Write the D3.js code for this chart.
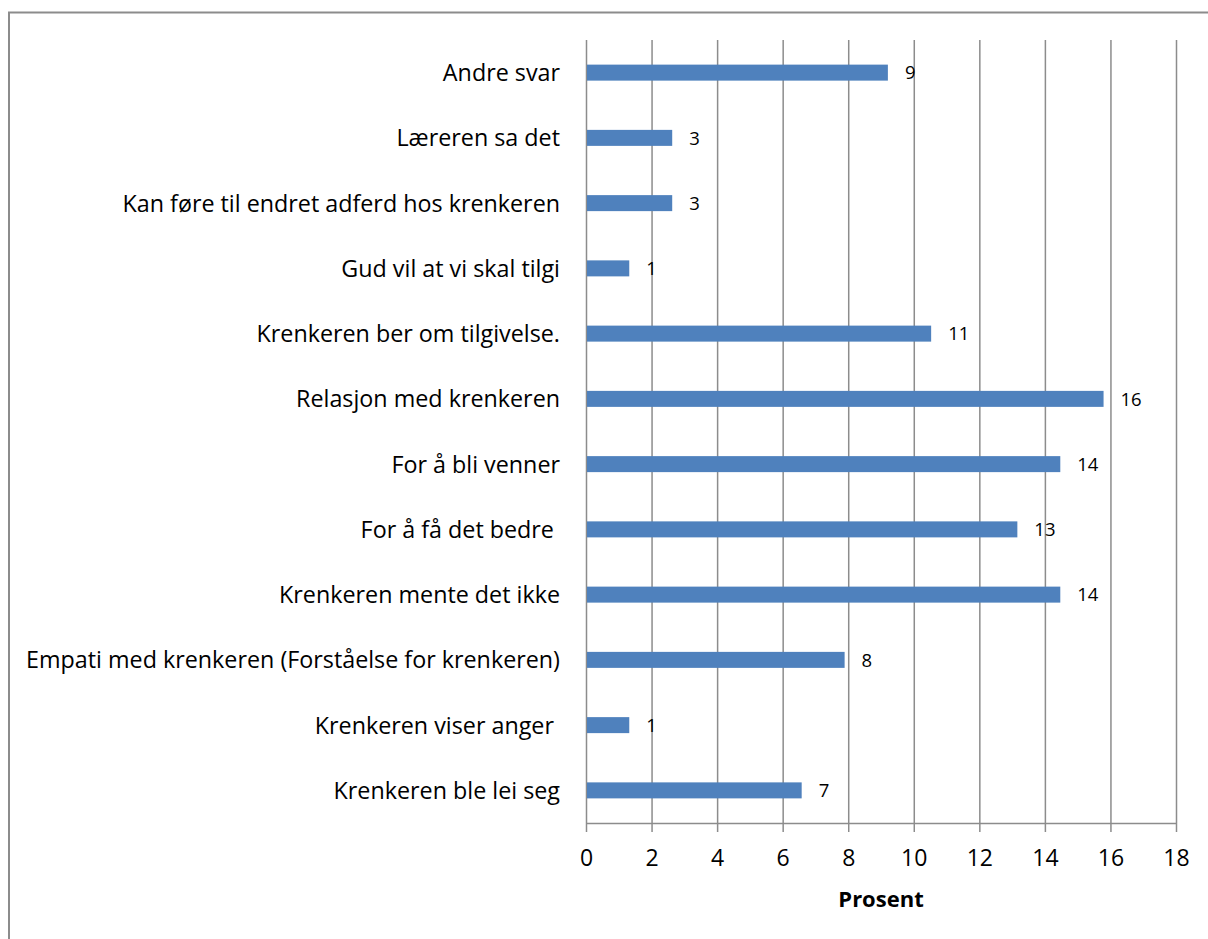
<!DOCTYPE html>
<html>
<head>
<meta charset="utf-8">
<script src="https://cdn.jsdelivr.net/npm/d3@7/dist/d3.min.js"></script>
<style>
    body { margin: 0; background: #fff; }
    svg { display: block; font-family: 'Open Sans', 'Noto Sans', sans-serif; }
    .grid line { stroke: #8c8c8c; stroke-width: 1.5; }
    .grid path { display: none; }
    .axis path, .axis line { stroke: #8c8c8c; stroke-width: 1.5; }
    .axis text { fill: #000; font-size: 23px; font-family: 'Open Sans', sans-serif; }
    .cat { font-size: 23.3px; fill: #000; }
    .val { font-size: 18.5px; fill: #000; }
</style>
</head>
<body>
<svg width="1208" height="939"></svg>
<script>
(function (d3) {
    'use strict';

    // categories from top to bottom
    var categories = [
        'Andre svar',
        'Læreren sa det',
        'Kan føre til endret adferd hos krenkeren',
        'Gud vil at vi skal tilgi',
        'Krenkeren ber om tilgivelse.',
        'Relasjon med krenkeren',
        'For å bli venner',
        'For å få det bedre ',
        'Krenkeren mente det ikke',
        'Empati med krenkeren (Forståelse for krenkeren)',
        'Krenkeren viser anger ',
        'Krenkeren ble lei seg'
    ];
    var values = [9.21, 2.63, 2.63, 1.32, 10.53, 15.79, 14.47, 13.16, 14.47, 7.89, 1.32, 6.58];
    var valueLabels = ['9', '3', '3', '1', '11', '16', '14', '13', '14', '8', '1', '7'];
    var xTicks = [0, 2, 4, 6, 8, 10, 12, 14, 16, 18];
    var xTitle = 'Prosent';

    var svg = d3.select('svg'),
        margin = { top: 40, right: 32, bottom: 116, left: 586 },
        width = svg.attr('width') - margin.left - margin.right,
        height = svg.attr('height') - margin.top - margin.bottom,
        barHeight = 16;

    var data = categories.map(function (c, i) {
        return { cat: c, value: values[i], label: valueLabels[i] };
    });

    // chart area border (right and bottom edges fall outside the picture)
    svg.append('rect')
        .attr('x', 9).attr('y', 12.5)
        .attr('width', 1220).attr('height', 960)
        .attr('fill', 'none')
        .attr('stroke', '#8c8c8c')
        .attr('stroke-width', 2);

    var x = d3.scaleLinear().domain([0, 18]).range([0, width]),
        y = d3.scaleBand().domain(categories).range([0, height]);

    var g = svg.append('g')
        .attr('transform', 'translate(' + margin.left + ',' + margin.top + ')');

    g.append('g')
        .attr('class', 'grid')
        .call(d3.axisBottom(x).tickValues(xTicks).tickSize(height).tickFormat(''));

    g.append('g')
        .attr('class', 'axis axis--x')
        .attr('transform', 'translate(0,' + height + ')')
        .call(d3.axisBottom(x).tickValues(xTicks).tickSizeInner(9).tickSizeOuter(0).tickPadding(18));

    g.selectAll('.bar')
        .data(data)
        .enter().append('rect')
        .attr('class', 'bar')
        .attr('x', 1)
        .attr('y', function (d) { return y(d.cat) + y.bandwidth() / 2 - barHeight / 2; })
        .attr('width', function (d) { return x(d.value) - 1; })
        .attr('height', barHeight)
        .attr('fill', '#4f81bd');

    g.selectAll('.val')
        .data(data)
        .enter().append('text')
        .attr('class', 'val')
        .attr('x', function (d) { return x(d.value) + 17; })
        .attr('y', function (d) { return y(d.cat) + y.bandwidth() / 2; })
        .attr('dy', '0.36em')
        .text(function (d) { return d.label; });

    g.selectAll('.cat')
        .data(data)
        .enter().append('text')
        .attr('class', 'cat')
        .attr('x', -26)
        .attr('y', function (d) { return y(d.cat) + y.bandwidth() / 2; })
        .attr('dy', '0.36em')
        .attr('text-anchor', 'end')
        .style('white-space', 'pre')
        .text(function (d) { return d.cat; });

    g.append('text')
        .attr('x', width / 2)
        .attr('y', height + 84)
        .attr('text-anchor', 'middle')
        .style('font-size', '22px')
        .style('font-weight', 'bold')
        .text(xTitle);
})(window.d3);
</script>
</body>
</html>
